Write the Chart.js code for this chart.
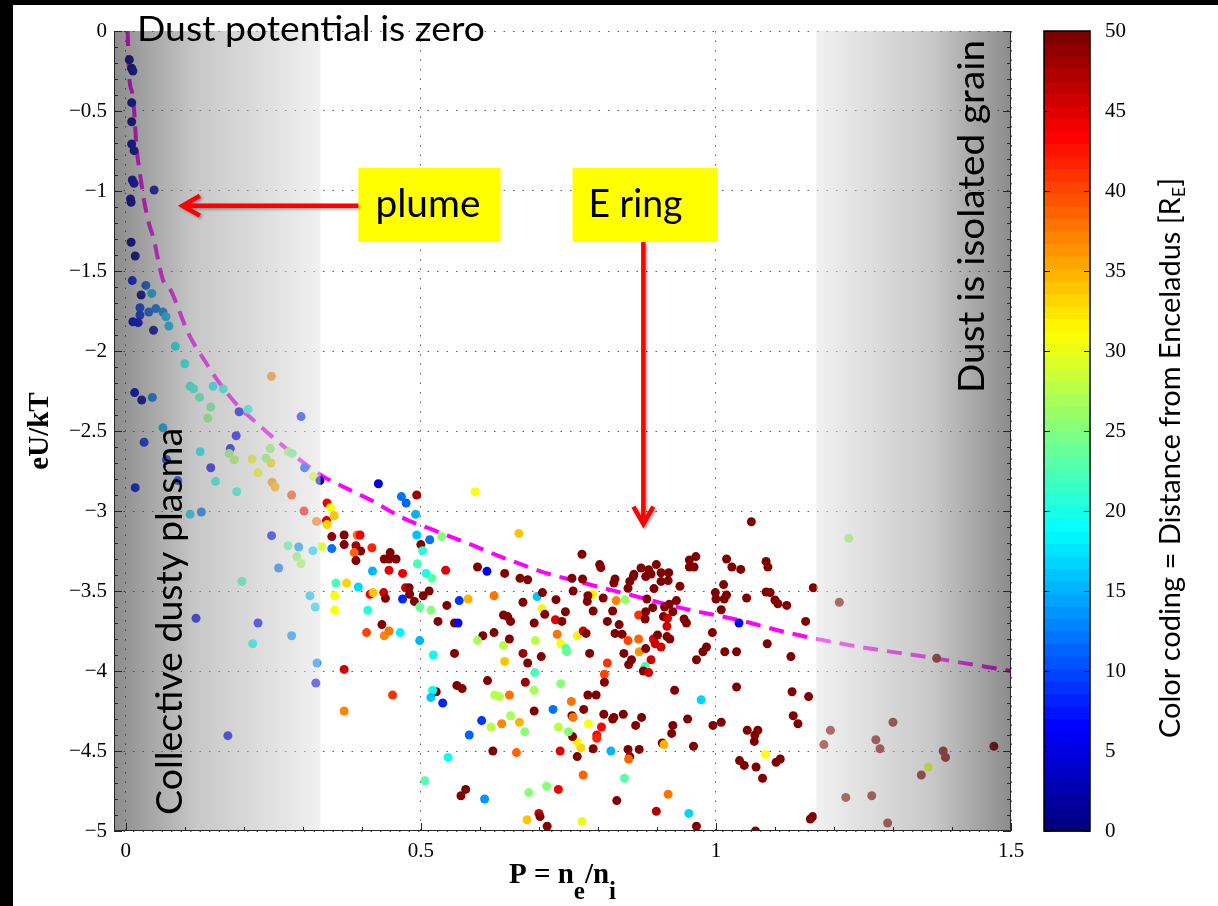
<!DOCTYPE html>
<html>
<head>
<meta charset="utf-8">
<title>Dust charge vs Havnes parameter</title>
<script src="https://cdn.jsdelivr.net/npm/chart.js@4.4.1/dist/chart.umd.min.js"></script>
<style>
  html, body { margin: 0; padding: 0; width: 1218px; height: 906px; overflow: hidden; background: #000; }
  #sheet { position: absolute; left: 13px; top: 5px; right: 0; bottom: 0; background: #fff; }
  #plot { position: absolute; left: 0; top: 0; }
</style>
</head>
<body>
<div id="sheet"></div>
<canvas id="plot" width="1218" height="906"></canvas>
<script>
// Havnes parameter P = ne/ni of each grain measurement
const pX = [
  0.006,0.010,0.012,0.010,0.010,0.010,0.014,0.011,0.014,0.048,
  0.008,0.009,0.009,0.016,0.011,0.034,0.026,0.044,0.024,0.024,
  0.039,0.051,0.063,0.068,0.012,0.021,0.047,0.073,0.084,0.100,
  0.109,0.115,0.148,0.165,0.247,0.015,0.027,0.045,0.125,0.144,
  0.139,0.207,0.192,0.297,0.063,0.187,0.031,0.177,0.175,0.184,
  0.126,0.069,0.144,0.214,0.224,0.238,0.245,0.246,0.276,0.282,
  0.303,0.318,0.248,0.253,0.088,0.152,0.016,0.188,0.281,0.329,
  0.428,0.302,0.109,0.128,0.323,0.341,0.347,0.353,0.340,0.341,
  0.493,0.467,0.475,0.491,0.592,0.666,0.247,0.275,0.293,0.290,
  0.297,0.317,0.332,0.349,0.349,0.370,0.370,0.392,0.397,0.390,
  0.398,0.387,0.390,0.417,0.438,0.448,0.458,0.446,0.418,0.446,
  0.469,0.493,0.515,0.500,0.503,0.535,0.494,0.509,0.519,0.542,
  0.596,0.612,0.642,0.668,0.681,
  0.197,0.259,0.119,0.224,0.215,0.281,0.312,0.321,0.324,0.322,
  0.173,0.356,0.374,0.354,0.354,0.394,0.414,0.419,0.410,0.437,
  0.440,0.434,0.408,0.438,0.446,0.465,0.469,0.474,0.480,0.481,
  0.489,0.498,0.504,0.514,0.517,0.498,0.521,0.529,0.544,0.557,
  0.563,0.565,0.580,0.605,0.596,0.624,0.624,0.557,0.642,0.640,
  0.650,0.640,0.647,0.652,0.673,0.681,0.673,0.692,0.704,0.694,
  0.697,0.705,0.710,0.706,0.613,0.561,0.570,0.625,0.633,0.650,
  0.677,0.693,0.692,0.692,0.452,0.370,0.370,0.526,0.520,0.517,
  0.537,0.603,0.619,0.637,0.652,0.667,0.676,0.582,0.622,0.662,
  0.546,0.507,0.576,0.568,0.608,0.683,0.713,0.700,0.702,0.680,
  0.714,
  1.060,0.773,0.803,0.805,0.756,0.774,0.758,0.829,0.827,0.861,
  0.860,0.873,0.886,0.890,0.881,0.899,0.907,0.920,0.907,0.919,
  0.854,0.851,0.895,0.939,0.955,0.966,0.955,0.963,1.018,1.027,
  1.042,1.085,1.088,1.013,0.999,1.000,1.018,1.014,1.052,1.085,
  1.092,1.100,1.105,1.120,1.165,1.009,1.039,1.152,1.209,1.225,
  0.729,0.791,0.783,0.782,0.809,0.831,0.846,0.883,0.745,0.792,
  0.825,0.869,0.881,0.893,0.913,0.921,0.933,0.911,0.927,0.728,
  0.739,0.816,0.836,0.880,0.918,0.917,0.946,0.950,0.994,0.731,
  0.737,0.746,0.765,0.775,0.780,0.829,0.841,0.851,0.869,0.894,
  0.901,0.897,0.907,0.917,0.922,0.984,1.087,
  0.747,0.786,0.844,0.857,0.852,0.870,0.881,0.890,0.880,0.877,
  0.886,0.967,0.978,1.015,1.035,1.127,0.737,0.755,0.783,0.797,
  0.811,0.811,0.816,0.930,0.975,1.035,1.129,1.157,1.194,1.183,
  1.220,1.131,1.139,1.053,1.071,1.066,1.065,1.040,1.048,1.068,
  1.084,1.079,1.102,1.109,1.160,1.164,1.067,0.967,0.954,0.899,
  0.919,0.832,0.845,0.952,0.995,1.009,0.927,0.925,0.962,0.909,
  0.912,0.874,0.864,0.843,0.827,0.825,0.810,0.806,0.798,0.798,
  0.792,0.784,0.822,0.851,0.854,0.852,0.870,0.775,0.765,0.771,
  0.764,0.757,0.750,0.736,0.733,0.756,0.758,0.776,0.724,0.733,
  0.773,
  1.374,1.300,1.271,1.278,1.385,1.389,1.471,1.360,1.348,1.264,1.291
];
// normalised dust surface potential eU/kT
const pY = [
  -0.18,-0.233,-0.25,-0.448,-0.567,-0.706,-0.748,-0.931,-0.952,-0.994,
  -1.05,-1.07,-1.32,-1.406,-1.56,-1.59,-1.65,-1.64,-1.73,-1.775,
  -1.756,-1.735,-1.756,-1.786,-1.817,-1.823,-1.87,-1.844,-1.97,-2.08,
  -2.22,-2.236,-2.22,-2.237,-2.158,-2.26,-2.306,-2.29,-2.29,-2.35,
  -2.42,-2.364,-2.38,-2.41,-2.48,-2.53,-2.57,-2.61,-2.64,-2.68,
  -2.63,-2.68,-2.73,-2.675,-2.76,-2.67,-2.61,-2.70,-2.63,-2.64,
  -2.73,-2.785,-2.82,-2.85,-2.81,-2.815,-2.854,-2.88,-2.90,-2.81,
  -2.83,-3.00,-3.02,-3.006,-3.065,-2.95,-2.98,-3.03,-3.06,-3.085,
  -2.90,-2.91,-2.95,-3.02,-2.88,-3.14,-3.154,-3.217,-3.225,-3.285,
  -3.33,-3.248,-3.223,-3.16,-3.235,-3.15,-3.21,-3.15,-3.15,-3.217,
  -3.25,-3.26,-3.31,-3.23,-3.30,-3.26,-3.30,-3.30,-3.375,-3.37,
  -3.39,-3.15,-3.18,-3.21,-3.248,-3.16,-3.33,-3.39,-3.42,-3.37,
  -3.35,-3.377,-3.39,-3.42,-3.43,
  -3.44,-3.356,-3.67,-3.70,-3.83,-3.78,-3.53,-3.60,-3.95,-4.075,
  -4.404,-3.45,-3.45,-3.53,-3.62,-3.475,-3.52,-3.51,-3.62,-3.51,
  -3.546,-3.71,-3.76,-3.78,-3.75,-3.76,-3.55,-3.48,-3.48,-3.52,
  -3.565,-3.60,-3.53,-3.50,-3.62,-3.81,-3.90,-3.69,-3.59,-3.70,
  -3.70,-3.56,-3.55,-3.78,-3.81,-3.76,-3.53,-3.89,-3.94,-3.84,
  -3.80,-3.65,-3.66,-3.69,-3.89,-3.95,-3.57,-3.70,-3.91,-3.81,
  -3.535,-3.61,-3.646,-3.51,-4.06,-4.09,-4.11,-4.15,-4.16,-4.15,
  -4.07,-4.01,-4.12,-4.25,-4.15,-3.99,-4.25,-4.13,-4.12,-4.165,
  -4.20,-4.31,-4.35,-4.33,-4.28,-4.32,-4.38,-4.40,-4.50,-4.51,
  -4.54,-4.686,-4.74,-4.78,-4.80,-4.76,-4.72,-4.89,-4.91,-4.93,
  -4.97,
  -3.067,-3.27,-3.335,-3.354,-3.42,-3.425,-3.50,-3.425,-3.45,-3.396,
  -3.41,-3.356,-3.367,-3.394,-3.41,-3.335,-3.386,-3.386,-3.44,-3.435,
  -3.44,-3.483,-3.485,-3.47,-3.306,-3.285,-3.35,-3.35,-3.30,-3.35,
  -3.365,-3.315,-3.35,-3.46,-3.51,-3.55,-3.525,-3.55,-3.544,-3.506,
  -3.51,-3.556,-3.58,-3.59,-3.48,-3.617,-3.70,-3.69,-3.57,-3.17,
  -3.554,-3.52,-3.53,-3.565,-3.544,-3.56,-3.554,-3.55,-3.63,-3.625,
  -3.625,-3.65,-3.63,-3.604,-3.60,-3.583,-3.56,-3.66,-3.63,-3.68,
  -3.69,-3.69,-3.71,-3.675,-3.67,-3.72,-3.675,-3.70,-3.76,-3.77,
  -3.83,-3.86,-3.78,-3.75,-3.765,-3.765,-3.77,-3.81,-3.80,-3.80,
  -3.775,-3.83,-3.85,-3.785,-3.80,-3.85,-3.83,
  -3.88,-3.89,-3.89,-3.93,-3.96,-3.88,-3.86,-3.93,-3.97,-4.00,
  -4.01,-3.93,-3.88,-3.88,-3.88,-3.91,-4.08,-4.19,-4.15,-4.15,
  -4.02,-4.07,-3.95,-4.12,-4.18,-4.10,-4.13,-4.16,-4.37,-4.46,
  -4.79,-4.28,-4.33,-4.37,-4.37,-4.40,-4.44,-4.56,-4.59,-4.60,
  -4.52,-4.67,-4.57,-4.55,-4.925,-4.91,-5.00,-4.97,-4.89,-4.877,
  -4.77,-4.81,-4.67,-4.30,-4.34,-4.32,-4.34,-4.39,-4.47,-4.45,
  -4.46,-4.29,-4.34,-4.27,-4.29,-4.30,-4.27,-4.35,-4.40,-4.42,
  -4.486,-4.33,-4.50,-4.49,-4.535,-4.55,-4.49,-4.65,-4.535,-4.48,
  -4.44,-4.41,-4.38,-4.50,-4.35,-4.28,-4.29,-4.24,-4.24,-4.74,
  -4.94,
  -3.92,-4.32,-4.43,-4.486,-4.50,-4.54,-4.47,-4.60,-4.65,-4.78,-4.95
];
// distance from Enceladus [R_E], drives the colour of each grain
const pD = [
  2,2,2,3,2,4,3,4,4,3,
  4,3,3,2,8,11,3,16,10,9,
  11,12,13,16,7,6,3,16,18,19,
  20,21,18,20,36,5,3,13,22,24,
  25,21,7,8,15,6,9,5,26,27,
  18,9,5,30,31,25,26,33,27,24,
  10,29,36,35,10,20,8,21,40,3,
  5,43,17,12,38,44,31,34,46,33,
  48,12,11,15,31,34,7,23,14,25,
  27,17,29,49,12,50,50,38,44,48,
  50,39,50,42,50,50,50,50,15,45,
  44,16,12,50,21,25,22,20,23,45,
  50,6,50,50,50,
  22,12,6,7,19,14,16,17,13,6,
  6,22,33,31,31,17,44,34,21,46,
  50,50,40,37,38,18,8,46,50,50,
  50,24,50,50,25,15,19,50,50,50,
  7,9,35,50,27,50,38,50,34,28,
  50,50,50,50,48,50,50,50,50,28,
  16,32,50,50,50,50,50,28,28,38,
  48,22,27,50,41,46,37,50,19,16,
  8,9,28,37,27,35,25,11,50,39,
  19,23,50,50,14,25,25,46,50,34,
  50,
  50,50,50,50,50,50,50,50,50,50,
  50,50,50,50,50,50,50,50,50,50,
  50,50,50,50,50,50,50,50,50,50,
  50,50,50,50,50,50,50,50,50,50,
  50,50,50,50,50,50,7,50,50,26,
  50,32,50,50,50,37,26,50,50,50,
  50,41,50,50,50,50,50,50,50,45,
  50,50,50,50,46,46,50,50,50,38,
  31,22,32,46,50,50,50,40,39,45,
  50,46,46,50,50,50,50,
  24,50,50,50,50,36,50,46,22,50,
  46,50,50,50,50,50,25,38,50,50,
  40,50,41,50,17,50,50,50,50,50,
  50,50,50,50,50,50,50,50,50,50,
  31,50,50,50,50,50,50,50,17,47,
  38,50,23,50,50,50,50,50,50,50,
  35,50,50,50,50,50,50,43,43,42,
  50,31,15,50,50,39,50,39,50,33,
  32,50,25,45,28,50,38,50,12,44,
  30,
  50,50,50,50,50,50,50,30,50,50,50
];

// theoretical dust potential curve (dashed)
const curveX = [0.003,0.006,0.011,0.014,0.018,0.024,0.031,0.039,0.048,0.057,0.063,0.076,
  0.106,0.137,0.151,0.187,0.228,0.262,0.295,0.335,0.375,0.414,0.471,0.522,0.578,0.635,
  0.675,0.714,0.765,0.856,0.946,1.037,1.127,1.229,1.37,1.5];
const curveY = [0.0,-0.29,-0.39,-0.49,-0.72,-0.89,-1.06,-1.2,-1.31,-1.47,-1.556,-1.62,
  -1.89,-2.08,-2.16,-2.33,-2.47,-2.58,-2.68,-2.785,-2.86,-2.93,-3.046,-3.12,-3.20,-3.285,
  -3.34,-3.39,-3.44,-3.525,-3.61,-3.68,-3.765,-3.84,-3.92,-4.0];

// axis ticks
const xTickValues = [0, 0.5, 1, 1.5];
const yTickValues = [0, -0.5, -1, -1.5, -2, -2.5, -3, -3.5, -4, -4.5, -5];
const cbTickValues = [0, 5, 10, 15, 20, 25, 30, 35, 40, 45, 50];

// regions, callouts and captions (placed in data units)
const shade = { leftEnd: 0.33, rightStart: 1.17 };
const callouts = [
  { text: 'plume', box: [0.394, 0.635, -0.856, -1.319], textX: 0.423, baseY: -1.165, width: 105,
    arrow: [0.394, -1.092, 0.096, -1.092] },
  { text: 'E ring', box: [0.757, 1.002, -0.856, -1.319], textX: 0.784, baseY: -1.165, width: 94,
    arrow: [0.877, -1.319, 0.877, -3.081] }
];

const SERIF = "'Liberation Serif', 'Times New Roman', serif";
const SANS = "Lato, 'Open Sans', sans-serif";

function jetColor(v, lo = 0, hi = 50) {
  const n = 64;
  const k = Math.min(n - 1, Math.max(0, Math.floor((v - lo) / (hi - lo) * n)));
  const t = k / (n - 1);
  const f = a => Math.round(255 * Math.max(0, Math.min(1, a)));
  return `rgb(${f(1.5 - Math.abs(4 * t - 3))},${f(1.5 - Math.abs(4 * t - 2))},${f(1.5 - Math.abs(4 * t - 1))})`;
}

const fmt = v => (v < 0 ? '\u2212' : '') + String(Math.abs(v));

// draw a run of text pieces, optionally squeezed to a target length, optionally rotated
function drawRuns(ctx, runs, x, y, opts) {
  const o = Object.assign({ rot: 0, target: null, align: 'left' }, opts);
  ctx.save();
  ctx.translate(x, y);
  ctx.rotate(o.rot);
  let w = 0;
  runs.forEach(r => { ctx.font = r.font; r.w = ctx.measureText(r.t).width; w += r.w; });
  const s = o.target ? o.target / w : 1;
  ctx.scale(s, 1);
  let cx = o.align === 'center' ? -w / 2 : 0;
  ctx.fillStyle = '#000';
  ctx.textAlign = 'left';
  ctx.textBaseline = 'alphabetic';
  runs.forEach(r => { ctx.font = r.font; ctx.fillText(r.t, cx, r.dy || 0); cx += r.w; });
  ctx.restore();
}

function redArrow(ctx, x1, y1, x2, y2) {
  ctx.save();
  ctx.strokeStyle = '#ff0000';
  ctx.lineWidth = 4.5;
  ctx.lineJoin = 'miter';
  ctx.shadowColor = 'rgba(0,0,0,0.35)';
  ctx.shadowBlur = 3;
  ctx.shadowOffsetX = 1.5;
  ctx.shadowOffsetY = 1.5;
  const ang = Math.atan2(y2 - y1, x2 - x1), L = 20, sp = 0.52;
  ctx.beginPath();
  ctx.moveTo(x1, y1);
  ctx.lineTo(x2 - Math.cos(ang) * 2, y2 - Math.sin(ang) * 2);
  ctx.moveTo(x2 - L * Math.cos(ang - sp), y2 - L * Math.sin(ang - sp));
  ctx.lineTo(x2, y2);
  ctx.lineTo(x2 - L * Math.cos(ang + sp), y2 - L * Math.sin(ang + sp));
  ctx.stroke();
  ctx.restore();
}

const decor = {
  id: 'decor',
  afterDatasetsDraw(chart) {
    const { ctx, chartArea: a, scales } = chart;
    const xs = scales.x, ys = scales.y;
    const W = a.right - a.left, H = a.bottom - a.top;

    // shaded regimes at both ends of the P axis
    ctx.save();
    ctx.beginPath(); ctx.rect(a.left, a.top, W, H); ctx.clip();
    const xl = xs.getPixelForValue(shade.leftEnd);
    let g = ctx.createLinearGradient(a.left, 0, xl, 0);
    g.addColorStop(0, 'rgba(25,25,25,0.5)');
    g.addColorStop(0.4, 'rgba(145,145,145,0.5)');
    g.addColorStop(1, 'rgba(226,226,226,0.5)');
    ctx.fillStyle = g;
    ctx.fillRect(a.left, a.top, xl - a.left, H);
    const xr = xs.getPixelForValue(shade.rightStart);
    g = ctx.createLinearGradient(xr, 0, a.right, 0);
    g.addColorStop(0, 'rgba(226,226,226,0.5)');
    g.addColorStop(0.6, 'rgba(145,145,145,0.5)');
    g.addColorStop(1, 'rgba(25,25,25,0.5)');
    ctx.fillStyle = g;
    ctx.fillRect(xr, a.top, a.right - xr, H);
    ctx.restore();

    // axes box with inward ticks
    ctx.save();
    ctx.strokeStyle = '#262626';
    ctx.lineWidth = 1;
    ctx.beginPath();
    ctx.moveTo(a.left + 0.5, a.top); ctx.lineTo(a.left + 0.5, a.bottom - 0.5);
    ctx.lineTo(a.right - 0.5, a.bottom - 0.5); ctx.lineTo(a.right - 0.5, a.top);
    ctx.stroke();
    ctx.beginPath();
    xTickValues.forEach(v => {
      const p = Math.round(xs.getPixelForValue(v)) + 0.5;
      ctx.moveTo(p, a.bottom); ctx.lineTo(p, a.bottom - 8);
    });
    yTickValues.forEach(v => {
      const p = Math.round(ys.getPixelForValue(v)) + 0.5;
      ctx.moveTo(a.left, p); ctx.lineTo(a.left + 8, p);
      ctx.moveTo(a.right, p); ctx.lineTo(a.right - 8, p);
    });
    for (let v = Math.ceil(xs.min * 10) / 10; v <= xs.max + 1e-9; v += 0.1) {
      const p = Math.round(xs.getPixelForValue(v)) + 0.5;
      ctx.moveTo(p, a.bottom); ctx.lineTo(p, a.bottom - 4);
    }
    for (let v = ys.min; v <= ys.max + 1e-9; v += 0.1) {
      const p = Math.round(ys.getPixelForValue(v)) + 0.5;
      ctx.moveTo(a.left, p); ctx.lineTo(a.left + 4, p);
      ctx.moveTo(a.right, p); ctx.lineTo(a.right - 4, p);
    }
    ctx.stroke();
    ctx.restore();

    // captions of the two regimes and of the P = 0 limit
    drawRuns(ctx, [{ t: 'Dust potential is zero', font: `35px ${SANS}` }],
      xs.getPixelForValue(0.019), ys.getPixelForValue(-0.06), { target: 348 });
    drawRuns(ctx, [{ t: 'Collective dusty plasma', font: `36px ${SANS}` }],
      xs.getPixelForValue(0.095), ys.getPixelForValue(-4.9), { target: 387, rot: -Math.PI / 2 });
    drawRuns(ctx, [{ t: 'Dust is isolated grain', font: `36px ${SANS}` }],
      xs.getPixelForValue(1.455), ys.getPixelForValue(-2.2625), { target: 353, rot: -Math.PI / 2 });

    // yellow callouts with red arrows
    callouts.forEach(c => {
      const [bx0, bx1, by0, by1] = c.box;
      const X0 = xs.getPixelForValue(bx0), X1 = xs.getPixelForValue(bx1);
      const Y0 = ys.getPixelForValue(by0), Y1 = ys.getPixelForValue(by1);
      ctx.fillStyle = '#ffff00';
      ctx.fillRect(X0, Y0, X1 - X0, Y1 - Y0);
      drawRuns(ctx, [{ t: c.text, font: `38px ${SANS}` }],
        xs.getPixelForValue(c.textX), ys.getPixelForValue(c.baseY), { target: c.width });
      const [ax1, ay1, ax2, ay2] = c.arrow;
      redArrow(ctx, xs.getPixelForValue(ax1), ys.getPixelForValue(ay1),
        xs.getPixelForValue(ax2), ys.getPixelForValue(ay2));
    });
  },
  afterDraw(chart) {
    const { ctx, chartArea: a, scales } = chart;
    const cb = scales.cb;

    // colour bar
    const bx = a.right + 33, bw = 46, n = 64;
    for (let k = 0; k < n; k++) {
      const v0 = cb.min + (cb.max - cb.min) * k / n, v1 = cb.min + (cb.max - cb.min) * (k + 1) / n;
      const yt = cb.getPixelForValue(v1), yb = cb.getPixelForValue(v0);
      ctx.fillStyle = jetColor((v0 + v1) / 2, cb.min, cb.max);
      ctx.fillRect(bx, yt, bw, yb - yt + 0.6);
    }
    ctx.save();
    ctx.strokeStyle = '#000';
    ctx.lineWidth = 1.5;
    ctx.strokeRect(bx, a.top, bw, a.bottom - a.top);
    ctx.lineWidth = 1;
    ctx.beginPath();
    cbTickValues.forEach(v => {
      const p = Math.round(cb.getPixelForValue(v)) + 0.5;
      ctx.moveTo(bx, p); ctx.lineTo(bx + 6, p);
      ctx.moveTo(bx + bw, p); ctx.lineTo(bx + bw - 6, p);
    });
    ctx.stroke();
    ctx.restore();

    // colour bar caption
    drawRuns(ctx, [
      { t: 'Color coding = Distance from Enceladus [R', font: `29px ${SANS}` },
      { t: 'E', font: `18px ${SANS}`, dy: 5 },
      { t: ']', font: `29px ${SANS}` }
    ], a.right + 169, a.bottom - 93, { target: 560, rot: -Math.PI / 2 });

    // x axis title with subscripts
    const big = `bold 29px ${SERIF}`, sub = `bold 25px ${SERIF}`;
    drawRuns(ctx, [
      { t: 'P = n', font: big },
      { t: 'e', font: sub, dy: 16 },
      { t: '/n', font: big },
      { t: 'i', font: sub, dy: 16 }
    ], (a.left + a.right) / 2, a.bottom + 52, { align: 'center' });
  }
};

const fixedTicks = vals => scale => { scale.ticks = vals.map(v => ({ value: v })); };
// fixed scale footprints so the plot box keeps its place on the page
const fitBox = (w, h) => s => {
  if (w !== null) s.width = w;
  if (h !== null) s.height = h;
  s.paddingTop = 0; s.paddingBottom = 0; s.paddingLeft = 0; s.paddingRight = 0;
};

new Chart(document.getElementById('plot'), {
  type: 'scatter',
  data: {
    datasets: [
      {
        label: 'grains',
        data: pX.map((x, i) => ({ x, y: pY[i] })),
        pointBackgroundColor: pD.map(d => jetColor(d)),
        pointRadius: 4.5,
        pointHoverRadius: 4.5,
        pointBorderWidth: 0,
        xAxisID: 'x', yAxisID: 'y',
        order: 1
      },
      {
        label: 'theory',
        type: 'line',
        data: curveX.map((x, i) => ({ x, y: curveY[i] })),
        borderColor: '#ff00ff',
        borderWidth: 4,
        borderDash: [15, 9],
        pointRadius: 0,
        fill: false,
        cubicInterpolationMode: 'monotone',
        xAxisID: 'x', yAxisID: 'y',
        order: 2
      }
    ]
  },
  options: {
    responsive: false,
    animation: false,
    devicePixelRatio: 1,
    events: [],
    layout: { padding: { top: 31, left: 0, right: 0, bottom: 0 }, autoPadding: false },
    plugins: { legend: { display: false }, tooltip: { enabled: false } },
    scales: {
      x: {
        type: 'linear', position: 'bottom', min: -0.02, max: 1.5,
        afterBuildTicks: fixedTicks(xTickValues),
        afterFit: fitBox(null, 75),
        grid: { color: '#5a5a5a', lineWidth: 1, drawTicks: false },
        border: { display: false, dash: [1.5, 8] },
        ticks: { padding: 8, color: '#000', font: { family: SERIF, size: 21 },
          callback: v => fmt(v), maxRotation: 0, autoSkip: false }
      },
      y: {
        type: 'linear', position: 'left', min: -5, max: 0,
        afterBuildTicks: fixedTicks(yTickValues),
        afterFit: fitBox(114, null),
        grid: { color: '#5a5a5a', lineWidth: 1, drawTicks: false },
        border: { display: false, dash: [1.5, 8] },
        ticks: { padding: 7, color: '#000', font: { family: SERIF, size: 21 },
          callback: v => fmt(v), autoSkip: false },
        title: { display: true, text: 'eU/kT', color: '#000',
          font: { family: SERIF, size: 29, weight: 'bold' }, padding: { top: 23, bottom: 0 } }
      },
      cb: {
        type: 'linear', position: 'right', min: 0, max: 50,
        afterBuildTicks: fixedTicks(cbTickValues),
        afterFit: fitBox(207, null),
        grid: { display: false, drawOnChartArea: false },
        border: { display: false },
        ticks: { padding: 86, color: '#000', font: { family: SERIF, size: 21 }, autoSkip: false }
      }
    }
  },
  plugins: [decor]
});
</script>
</body>
</html>
